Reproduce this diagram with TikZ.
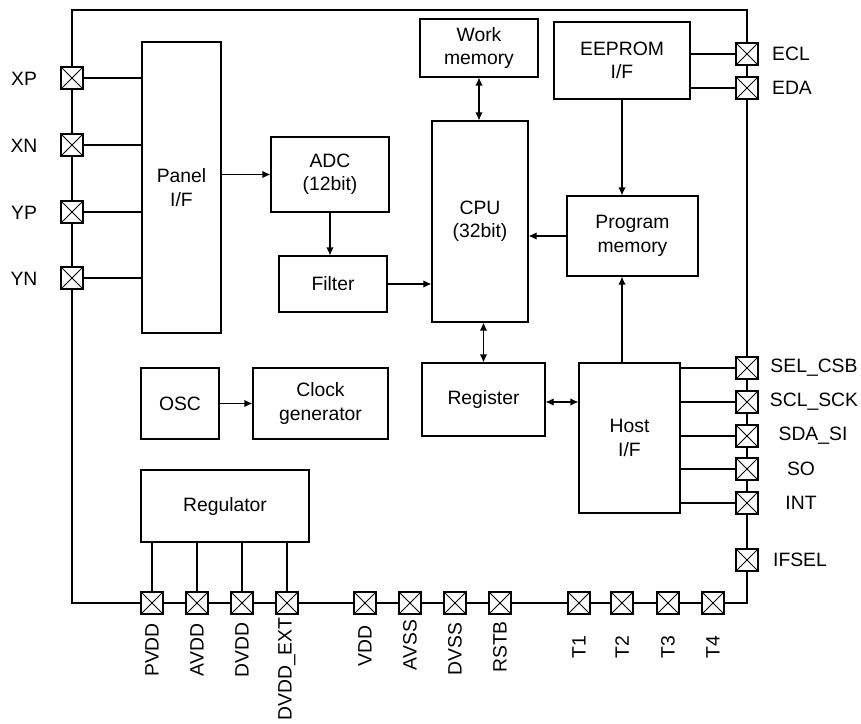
\documentclass[tikz,border=0pt]{standalone}
\usepackage{fontspec}
\setmainfont{Liberation Sans}
\usetikzlibrary{arrows.meta}

\begin{document}
\begin{tikzpicture}[x=0.75pt,y=-0.75pt,line width=0.8pt,font=\fontsize{14.5}{17.5}\selectfont,
box/.style={draw,align=center,inner sep=2pt},
pad/.style={draw,fill=white,line width=1.1pt,minimum size=16.5pt,inner sep=0pt,
  path picture={\draw[line width=0.6pt](path picture bounding box.north west)--(path picture bounding box.south east)
  (path picture bounding box.north east)--(path picture bounding box.south west);}},
arr/.style={-{Latex[length=6pt,width=5.5pt]}},
darr/.style={{Latex[length=6pt,width=5.5pt]}-{Latex[length=6pt,width=5.5pt]}}]
\useasboundingbox (0,0) rectangle (861,724);
% chip outline
\draw (72,10) rectangle (747,603);
% blocks
\node[box,minimum width=59.25pt,minimum height=218.25pt](panel) at (181.5,187.5){Panel\\I/F};
\node[box,minimum width=88.5pt,minimum height=56.25pt](adc) at (330,174.5){ADC\\(12bit)};
\node[box,minimum width=81pt,minimum height=42pt](filter) at (333,284){Filter};
\node[box,minimum width=88.5pt,minimum height=43.5pt](work) at (479,48){Work\\memory};
\node[box,minimum width=72pt,minimum height=150.75pt](cpu) at (480,221.5){CPU\\(32bit)};
\node[box,minimum width=102pt,minimum height=57.75pt](eeprom) at (622,60.5){EEPROM\\I/F};
\node[box,minimum width=98.25pt,minimum height=60pt](prog) at (632.5,236){Program\\memory};
\node[box,minimum width=92.25pt,minimum height=54.75pt](register) at (483.5,399.5){Register};
\node[box,minimum width=75.75pt,minimum height=112.5pt](host) at (629.5,438){Host\\I/F};
\node[box,minimum width=58.5pt,minimum height=53.25pt](osc) at (180,403.5){OSC};
\node[box,minimum width=101.25pt,minimum height=53.25pt](clkgen) at (320.5,403.5){Clock\\generator};
\node[box,minimum width=126pt,minimum height=54pt](regulator) at (225,506){Regulator};
% left pads
\node[pad](xp) at (72,78){};   \node at (24,79){XP};
\node[pad](xn) at (72,145){};  \node at (24,146){XN};
\node[pad](yp) at (72,212){};  \node at (24,213){YP};
\node[pad](yn) at (72,278){};  \node at (24,279){YN};
% right pads
\node[pad](ecl) at (747,54){};     \node at (791,54){ECL};
\node[pad](eda) at (747,88){};     \node at (792,88){EDA};
\node[pad](selcsb) at (747,368){}; \node at (814,368){SEL\_CSB};
\node[pad](sclsck) at (747,402){}; \node at (814,402){SCL\_SCK};
\node[pad](sdasi) at (747,436){};  \node at (813,436){SDA\_SI};
\node[pad](so) at (747,469){};     \node at (801,469){SO};
\node[pad](int) at (747,503){};    \node at (801,503){INT};
\node[pad](ifsel) at (747,560){};  \node at (800,560){IFSEL};
% bottom pads
\node[pad](pvdd) at (152,603){};    \node[rotate=90] at (152,650){PVDD};
\node[pad](avdd) at (197,603){};    \node[rotate=90] at (197,650){AVDD};
\node[pad](dvdd) at (242,603){};    \node[rotate=90] at (242,650){DVDD};
\node[pad](dvddext) at (287,603){}; \node[rotate=90,anchor=east,inner sep=0pt] at (287,617){DVDD\_EXT};
\node[pad](vdd) at (365,603){};     \node[rotate=90] at (365,646){VDD};
\node[pad](avss) at (410,603){};    \node[rotate=90] at (410,645){AVSS};
\node[pad](dvss) at (455,603){};    \node[rotate=90] at (455,649){DVSS};
\node[pad](rstb) at (500,603){};    \node[rotate=90] at (500,647){RSTB};
\node[pad](t1) at (579,603){};      \node[rotate=90] at (579,647){T1};
\node[pad](t2) at (622,603){};      \node[rotate=90] at (622,647){T2};
\node[pad](t3) at (668,603){};      \node[rotate=90] at (668,647){T3};
\node[pad](t4) at (713,603){};      \node[rotate=90] at (713,647){T4};
% connections
\draw(xp)--(xp-|panel.west);\draw(xn)--(xn-|panel.west);
\draw(yp)--(yp-|panel.west);\draw(yn)--(yn-|panel.west);
\draw[arr](panel.east|-adc.west)--(adc.west);
\draw[arr](adc.south)--(adc.south|-filter.north);
\draw[arr](filter.east)--(filter.east-|cpu.west);
\draw[darr](work.south)--(work.south|-cpu.north);
\draw[arr](eeprom.south)--(eeprom.south|-prog.north);
\draw[arr](prog.west)--(prog.west-|cpu.east);
\draw(ecl-|eeprom.east)--(ecl);\draw(eda-|eeprom.east)--(eda);
\draw[darr](cpu.south-|register.north)--(register.north);
\draw[darr](register.east|-sclsck)--(host.west|-sclsck);
\draw[arr](eeprom.south|-host.north)--(eeprom.south|-prog.south);
\draw(selcsb-|host.east)--(selcsb);\draw(sclsck-|host.east)--(sclsck);
\draw(sdasi-|host.east)--(sdasi);\draw(so-|host.east)--(so);
\draw(int-|host.east)--(int);
\draw[arr](osc.east)--(clkgen.west);
\draw(pvdd|-regulator.south)--(pvdd);\draw(avdd|-regulator.south)--(avdd);
\draw(dvdd|-regulator.south)--(dvdd);\draw(dvddext|-regulator.south)--(dvddext);
\end{tikzpicture}
\end{document}
